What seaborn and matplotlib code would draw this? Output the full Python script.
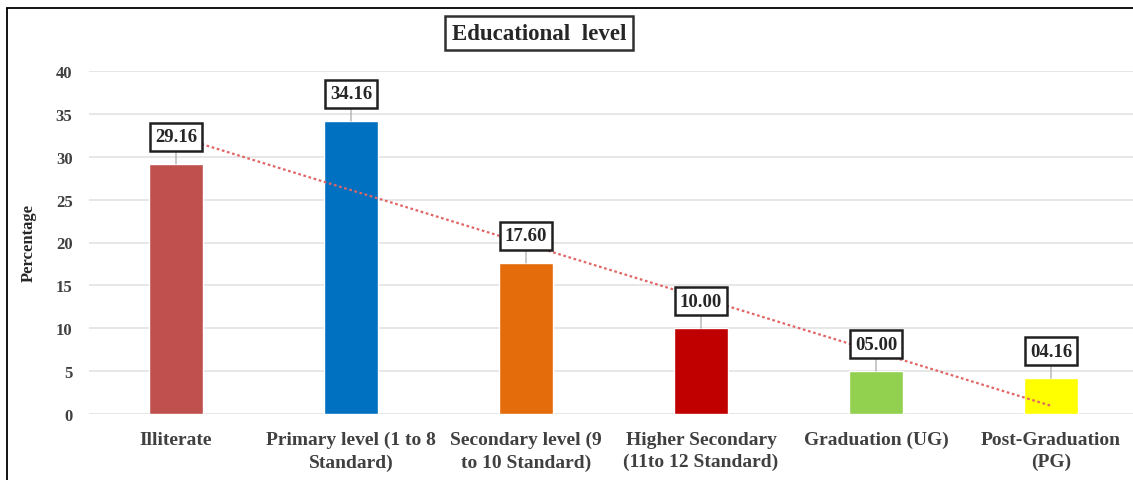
import matplotlib
matplotlib.use("Agg")
import matplotlib.pyplot as plt
import seaborn as sns
import numpy as np
import pandas as pd
from matplotlib.lines import Line2D

categories = ["Illiterate", "Primary level (1 to 8\nStandard)", "Secondary level (9\nto 10 Standard)",
              "Higher Secondary\n(11to 12 Standard)", "Graduation (UG)", "Post-Graduation\n(PG)"]
values = [29.16, 34.16, 17.60, 10.00, 5.00, 4.16]
value_labels = ["29.16", "34.16", "17.60", "10.00", "05.00", "04.16"]
colors = ["#C0504D", "#0070C0", "#E46C0A", "#C00000", "#92D050", "#FFFF00"]
yticks = [0, 5, 10, 15, 20, 25, 30, 35, 40]

sns.set_theme(style="white")
plt.rcParams['font.family'] = ['Liberation Serif', 'DejaVu Serif']

W, H = 1133, 481
fig = plt.figure(figsize=(W / 100, H / 100), dpi=100)
ax = fig.add_axes([88.5 / W, (H - 415) / H, (W - 88.5) / W, (415 - 72) / H])

df = pd.DataFrame({"cat": categories, "val": values})
sns.barplot(data=df, x="cat", y="val", hue="cat", palette=colors, legend=False,
            width=0.31, ax=ax, saturation=1, zorder=3)

ax.set_ylim(0, 40)
ax.set_xlim(-0.5, -0.5 + (W - 88.5) / 175)
ax.set_yticks(yticks)
ax.yaxis.grid(True, color="#e3e3e3", linewidth=1.2, zorder=0)
ax.set_axisbelow(True)
for s in ax.spines.values():
    s.set_visible(False)
ax.tick_params(axis="y", length=0, pad=11.5, labelsize=12, labelcolor="#404040")
ax.tick_params(axis="x", length=0, pad=12, labelsize=14, labelcolor="#404040")
for t in ax.get_yticklabels():
    t.set_fontweight("bold")
for t in ax.get_xticklabels():
    t.set_fontweight("bold")
    t.set_linespacing(1.4)
ax.set_xlabel("")
ax.set_ylabel("Percentage", fontsize=12, fontweight="bold", color="#262626", labelpad=14)

# linear trendline
xs = np.arange(len(values))
k, b = np.polyfit(xs, values, 1)
ax.plot([xs[0], xs[-1]], [k * xs[0] + b, k * xs[-1] + b], linestyle=(0, (1.2, 1.2)),
        color="#E06666", linewidth=1.6, zorder=4)

# data labels with leader lines
for i, (v, lab) in enumerate(zip(values, value_labels)):
    ax.annotate(lab, xy=(i, v), xytext=(0, 19.5), textcoords="offset points",
                ha="center", va="center", fontsize=13.5, fontweight="bold", color="#262626",
                bbox=dict(boxstyle="square,pad=0.28", fc="white", ec="#202020", lw=1.8),
                arrowprops=dict(arrowstyle="-", color="#a0a0a0", lw=0.8, shrinkA=0, shrinkB=0),
                zorder=6)

# title box
fig.text(539 / W, 1 - 34 / H, "Educational  level", ha="center", va="center",
         fontsize=16.5, fontweight="bold", color="#262626",
         bbox=dict(boxstyle="square,pad=0.3", fc="white", ec="#303030", lw=1.8))

# outer frame (left and top)
fig.add_artist(Line2D([7 / W, 7 / W], [0, 1 - 9 / H], color="black", lw=1.3, transform=fig.transFigure))
fig.add_artist(Line2D([7 / W, 1], [1 - 9 / H, 1 - 9 / H], color="black", lw=1.3, transform=fig.transFigure))

fig.savefig("out.png", dpi=100)
